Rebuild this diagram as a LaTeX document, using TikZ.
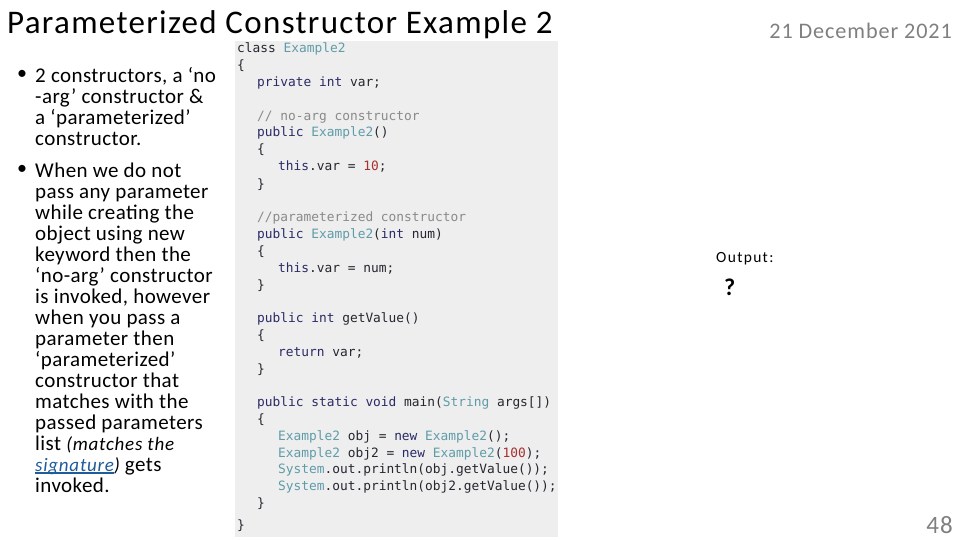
\documentclass[tikz,border=0pt]{standalone}
\usepackage{fontspec}
\setmainfont{Carlito}[LetterSpace=2]
\setmonofont{DejaVu Sans Mono}
\newfontfamily\titleface{Carlito}[LetterSpace=4]
\newfontfamily\dateface{Carlito}[LetterSpace=4]
\newfontfamily\outputface{Carlito}[LetterSpace=8.6]
\newfontfamily\noteface{Carlito}[LetterSpace=4]
\definecolor{codebg}{HTML}{EEEEEE}
\definecolor{codekw}{HTML}{2A2A66}
\definecolor{codety}{HTML}{5F9CA8}
\definecolor{codecm}{HTML}{8A8A8A}
\definecolor{codenm}{HTML}{A83030}
\definecolor{codetx}{HTML}{262630}
\definecolor{linkblue}{HTML}{1F5C99}
\definecolor{slidegray}{HTML}{7F7F7F}
\newcommand{\kw}[1]{\textcolor{codekw}{#1}}
\newcommand{\ty}[1]{\textcolor{codety}{#1}}
\newcommand{\cm}[1]{\textcolor{codecm}{#1}}
\newcommand{\nm}[1]{\textcolor{codenm}{#1}}
\newcommand{\linkword}[1]{\leavevmode\setbox0\hbox{#1}\rlap{\textcolor{linkblue}{\rule[-2.6pt]{\wd0}{1.6pt}}}\textcolor{linkblue}{\box0}}
\tikzset{
  code/.style={anchor=base west,inner sep=0pt,font=\fontsize{12.85pt}{14pt}\ttfamily,text=codetx},
  para/.style={anchor=north west,inner sep=0pt,align=left,
    font=\fontsize{21pt}{21pt}\selectfont,text=black},
  bulletmark/.style={anchor=base west,inner sep=0pt,font=\fontsize{20pt}{21pt}\selectfont}
}
\begin{document}
\begin{tikzpicture}[x=1pt,y=-1pt]
  \useasboundingbox (0,0) rectangle (960,540);
  \fill[codebg] (235,41) rectangle (558,537);
  % slide texts
  \node[anchor=base west,inner sep=0pt,font=\fontsize{33pt}{36pt}\titleface,text=black] (title) at (7,34) {Parameterized Constructor Example 2};
  \node[anchor=base east,inner sep=0pt,font=\fontsize{22.2pt}{24pt}\dateface,text=slidegray] (date) at (952,39) {21 December 2021};
  \node[anchor=base west,inner sep=0pt,font=\fontsize{15.5pt}{18pt}\outputface,text=black] (output) at (716,262) {Output:};
  \node[anchor=base west,inner sep=0pt,font=\fontsize{24pt}{26pt}\bfseries,text=black] (answer) at (724,295) {?};
  \node[anchor=base east,inner sep=0pt,font=\fontsize{25pt}{28pt}\dateface,text=slidegray] (page) at (953,533) {48};
  % bullets
  \node[bulletmark] (dot1) at (17,80) {•};
  \node[bulletmark] (dot2) at (17,175) {•};
  \node[para] (first) at (35,67) {2 constructors, a ‘no\\-arg’ constructor \&\\a ‘parameterized’\\constructor.};
  \node[para] (second) at (35,162.6) {When we do not\\pass any parameter\\while creating the\\object using new\\keyword then the\\‘no-arg’ constructor\\is invoked, however\\when you pass a\\parameter then\\‘parameterized’\\constructor that\\matches with the\\passed parameters\\list {\fontsize{19pt}{21pt}\noteface\itshape (matches the}\\{\fontsize{19pt}{21pt}\noteface\itshape\linkword{signature})} gets\\invoked.};
  % code listing
  \begin{scope}[yshift=-1pt]
    \node[code] (l1) at (237,52) {class \ty{Example2}};
    \node[code] (l2) at (237,69) {\{};
    \node[code] (l3) at (257,86) {\kw{private int} var;};
    \node[code] (l4) at (257,120) {\cm{// no-arg constructor}};
    \node[code] (l5) at (257,136) {\kw{public} \ty{Example2}()};
    \node[code] (l6) at (257,153) {\{};
    \node[code] (l7) at (278,170) {\kw{this}.var = \nm{10};};
    \node[code] (l8) at (257,187) {\}};
    \node[code] (l9) at (257,220) {\cm{//parameterized constructor}};
    \node[code] (l10) at (257,237) {\kw{public} \ty{Example2}(\kw{int} num)};
    \node[code] (l11) at (257,254) {\{};
    \node[code] (l12) at (278,271) {\kw{this}.var = num;};
    \node[code] (l13) at (257,288) {\}};
    \node[code] (l14) at (257,321) {\kw{public int} getValue()};
    \node[code] (l15) at (257,338) {\{};
    \node[code] (l16) at (278,355) {\kw{return} var;};
    \node[code] (l17) at (257,372) {\}};
    \node[code] (l18) at (257,405) {\kw{public static void} main(\ty{String} args[])};
    \node[code] (l19) at (257,422) {\{};
    \node[code] (l20) at (278,439) {\ty{Example2} obj = \kw{new} \ty{Example2}();};
    \node[code] (l21) at (278,456) {\ty{Example2} obj2 = \kw{new} \ty{Example2}(\nm{100});};
    \node[code] (l22) at (278,472) {\ty{System}.out.println(obj.getValue());};
    \node[code] (l23) at (278,489) {\ty{System}.out.println(obj2.getValue());};
    \node[code] (l24) at (257,506) {\}};
    \node[code] (l25) at (237,528) {\}};
  \end{scope}
\end{tikzpicture}
\end{document}
